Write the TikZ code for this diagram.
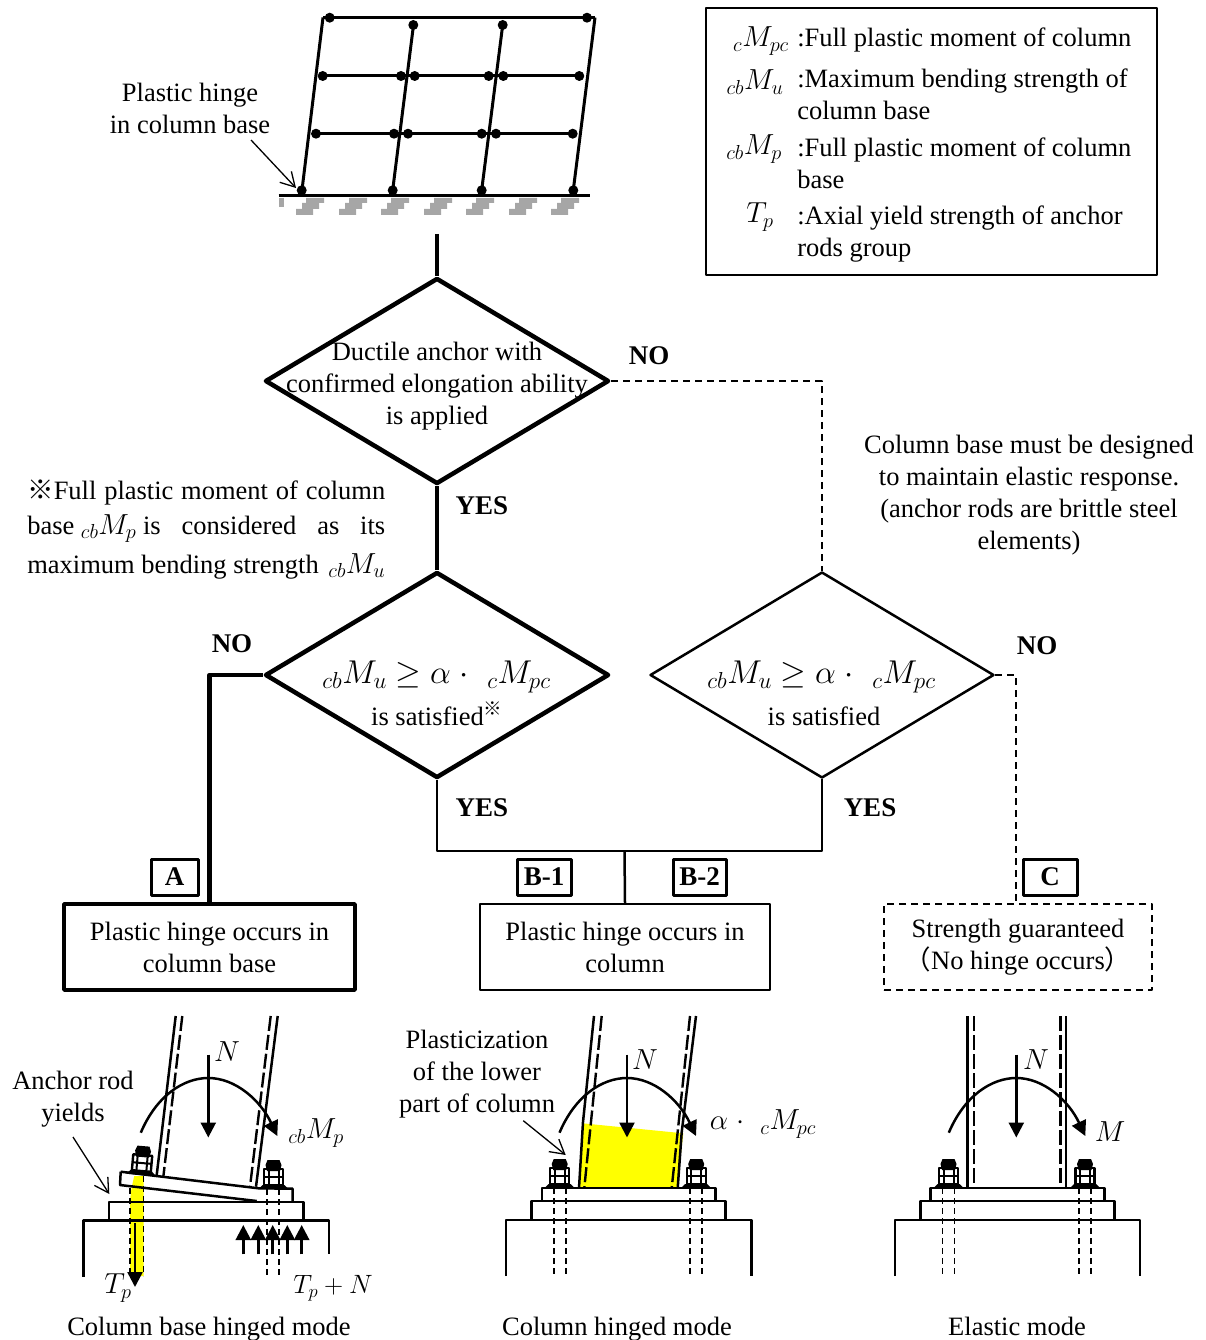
\documentclass[tikz,border=0pt]{standalone}
\usepackage{fix-cm}
\usepackage{fontspec}
\setmainfont{Liberation Serif}
\newfontfamily\cjkfont{Noto Sans CJK JP}
\usetikzlibrary{arrows.meta,shapes.geometric}
\definecolor{hingeyellow}{RGB}{255,255,0}
\newcommand{\preM}[2]{\ensuremath{{}_{#1}M_{#2}}}
\newcommand{\notesize}{\fontsize{29}{32}\selectfont}

\tikzset{
  txt/.style={inner sep=0pt, align=center, font=\fontsize{26.5}{32}\selectfont},
  mth/.style={inner sep=0pt, font=\fontsize{29}{34}\selectfont},
  mthbig/.style={inner sep=0pt, font=\fontsize{33}{38}\selectfont},
  yesno/.style={inner sep=0pt, font=\fontsize{27}{32}\selectfont\bfseries},
  decision/.style={diamond, draw, aspect=1, inner sep=0pt, minimum width=344pt, minimum height=206pt},
  resultbox/.style={draw, inner sep=0pt, align=center, minimum height=86pt, font=\fontsize{26.5}{32}\selectfont},
  tagbox/.style={draw, line width=3pt, inner sep=0pt, minimum height=36pt, font=\fontsize{27}{32}\selectfont\bfseries},
  dashline/.style={line width=2.5pt, dash pattern=on 7pt off 5pt},
  thickline/.style={line width=4.5pt},
  rodline/.style={line width=1.8pt, dash pattern=on 6pt off 4pt},
  wallline/.style={line width=2.4pt, dash pattern=on 15pt off 4pt},
  barb/.style={line width=1.3pt, -{Straight Barb[length=14pt,width=16pt]}},
  bigtip/.style={line width=2.5pt, -{Triangle[length=15pt,width=15pt]}},
  nutbolt/.pic={
    \fill (-6.5,-18) -- (-8,-24) -- (-6,-29) -- (6,-29) -- (8,-24) -- (6.5,-18) -- cycle;
    \draw[line width=2.4pt] (-9.5,-4) rectangle (9.5,-20);
    \draw[line width=2pt] (-5,-4) -- (-5,-20) (5,-4) -- (5,-20) (-9.5,-12) -- (9.5,-12);
    \fill (-15,0) -- (-11,-4) -- (11,-4) -- (15,0) -- cycle;
  },
  basefix/.pic={
    \draw (-86.8,0) rectangle (86.8,13);
    \draw (-97,13) rectangle (97,32);
    \draw (-122.7,88) -- (-122.7,32) -- (122.7,32) -- (122.7,88);
    \foreach \bx in {-69,67.5} {
      \draw[rodline] (\bx-6,0) -- (\bx-6,88);
      \draw[rodline] (\bx+6,0) -- (\bx+6,88);
      \path (\bx,0) pic {nutbolt};
    }
  },
  loadarc/.pic={
    \draw[bigtip] (-67.5,54.7) .. controls (-52,18) and (-25,0) .. (0,0) .. controls (27,0) and (52,22) .. (69,58);
    \draw[bigtip] (0,-23.5) -- (0,59.5);
  }
}

\begin{document}
\begin{tikzpicture}[x=1pt, y=-1pt, line width=2.5pt, line join=round]

  %% ==== frame ====
  \draw[line width=3pt] (323,17.5) -- (595,17.5);
  \draw[line width=3pt] (323,17.5) -- (302,190);
  \draw[line width=3pt] (413.5,25) -- (392.7,190);
  \draw[line width=3pt] (502.7,25) -- (481.7,190);
  \draw[line width=3pt] (595,17.5) -- (573.3,190);
  \draw[line width=3pt] (322.7,76) -- (579.3,76);
  \draw[line width=3pt] (316,133.7) -- (572.7,133.7);
  \foreach \hx/\hy in {329.7/17.7, 587/17.7, 413.3/25, 502.7/25,
      322.7/76, 401/76, 414.7/76, 488.7/76, 503.3/76, 579.3/76,
      316/133.7, 394/133.7, 408/133.7, 481.7/133.7, 496/133.7, 572.7/133.7,
      301.7/190.3, 392.7/190.3, 481.7/190.3, 573.3/190.3}
    \fill (\hx,\hy) circle (5);
  \fill[black!35] (278.7,198) rectangle (284,207);
  \foreach \gx in {296,339,381,424,466,509,551}
    \fill[black!35] (\gx,215) -- (\gx,209) -- (\gx+6,209) -- (\gx+6,203) -- (\gx+10,203) -- (\gx+10,198)
      -- (\gx+28,198) -- (\gx+28,203) -- (\gx+23,203) -- (\gx+23,209) -- (\gx+17,209) -- (\gx+17,215) -- cycle;
  \draw[line width=3pt] (278.7,195.7) -- (590,195.7);
  \node[txt] (lblHinge) at (190,108) {Plastic hinge\\in column base};
  \coordinate (hingeFrom) at (251,140);
  \coordinate (hingeTo) at (296,188);
  \draw[barb] (hingeFrom) -- (hingeTo);

  %% ==== legend ====
  \node[draw, line width=2pt, minimum width=451pt, minimum height=267pt, inner sep=0pt] (lgdBox) at (931.5,141.5) {};
  \node[mth] (lgdSymA) at (761,41) {\preM{c}{pc}};
  \node[mth] (lgdSymB) at (755,82) {\preM{cb}{u}};
  \node[mth] (lgdSymC) at (754,149) {\preM{cb}{p}};
  \node[mth] (lgdSymD) at (760,217) {\ensuremath{T_p}};
  \node[txt, anchor=west, align=left] (lgdTxtA) at (796,40) {:Full plastic moment of column};
  \node[txt, anchor=west, align=left] (lgdTxtB) at (796,94) {:Maximum bending strength of\\column base};
  \node[txt, anchor=west, align=left] (lgdTxtC) at (796,163) {:Full plastic moment of column\\base};
  \node[txt, anchor=west, align=left] (lgdTxtD) at (796,234) {:Axial yield strength of anchor\\rods group};

  %% ==== flow chart ====
  \node[decision, line width=4.5pt] (dDuctile) at (437,381) {};
  \node[decision, line width=4.5pt] (dStrength) at (437,675) {};
  \node[decision] (dElastic) at (822,675) {};
  \node[txt] (txtDuctile) at (437,386) {Ductile anchor with\\confirmed elongation ability\\is applied};
  \node[mthbig] (txtStrengthA) at (436.5,677) {\preM{cb}{u} $\geq\alpha\;\cdot\;\;$\preM{c}{pc}};
  \node[txt] (txtStrengthB) at (437,714) {is satisfied\textsuperscript{\cjkfont ※}};
  \node[mthbig] (txtElasticA) at (821.5,677) {\preM{cb}{u} $\geq\alpha\;\cdot\;\;$\preM{c}{pc}};
  \node[txt] (txtElasticB) at (824,716) {is satisfied};

  \node[resultbox, line width=3.5pt, minimum width=291pt] (bA) at (209.5,947) {Plastic hinge occurs in\\column base};
  \node[resultbox, minimum width=290pt] (bB) at (625,947) {Plastic hinge occurs in\\column};
  \node[resultbox, dashline, minimum width=268pt] (bC) at (1018,947) {Strength guaranteed\\{\cjkfont （}No hinge occurs{\cjkfont ）}};

  \node[tagbox, minimum width=47pt] (tagA) at (174.5,877) {A};
  \node[tagbox, minimum width=54pt] (tagBa) at (544,877) {B-1};
  \node[tagbox, minimum width=53pt] (tagBb) at (699.5,877) {B-2};
  \node[tagbox, minimum width=54pt] (tagC) at (1050,877) {C};

  \coordinate (stemTop) at (437,234);
  \coordinate (busL) at (437,851);
  \coordinate (busM) at (624.5,851);
  \coordinate (busR) at (822,851);
  \coordinate (cTurn) at (1016,675);
  \draw[thickline] (stemTop) -- (dDuctile.north);
  \draw[thickline] (dDuctile.south) -- (dStrength.north);
  \draw[dashline] (dDuctile.east) -| (dElastic.north);
  \draw[thickline] (dStrength.west) -| (bA.north);
  \draw (dStrength.south) -- (busL) -- (busR) -- (dElastic.south);
  \draw (busM) -- (bB.north);
  \draw[dashline] (dElastic.east) -- (cTurn) -- (cTurn |- bC.north);

  \node[yesno] (noDuctile) at (649,356) {NO};
  \node[yesno] (yesDuctile) at (482,506) {YES};
  \node[yesno] (noStrength) at (232,644) {NO};
  \node[yesno] (yesStrength) at (482,808) {YES};
  \node[yesno] (yesElastic) at (870,808) {YES};
  \node[yesno] (noElastic) at (1037,646) {NO};

  \node[txt, anchor=base west] (txtNoteA) at (26,499) {\hbox to 358pt{{\cjkfont ※}Full plastic moment of column}};
  \node[txt, anchor=base west] (txtNoteB) at (26,534) {\hbox to 358pt{base {\notesize\preM{cb}{p}} is\hfil considered\hfil as\hfil its}};
  \node[txt, anchor=base west] (txtNoteC) at (26,573) {\hbox to 358pt{maximum bending strength\hfil\ {\notesize\preM{cb}{u}}}};
  \node[txt] (txtBrittle) at (1029,495) {Column base must be designed\\to maintain elastic response.\\(anchor rods are brittle steel\\elements)};

  %% ==== A: column base hinged ====
  \fill[hingeyellow] (134.3,1176) -- (143.5,1176) -- (143.5,1276) -- (130,1276) -- (130,1205) .. controls (130,1195) and (132,1185) .. cycle;
  \draw (175.7,1016) -- (156.7,1175);
  \draw[wallline] (182.3,1016) -- (163.3,1177);
  \draw (277.7,1016) -- (256,1186.7);
  \draw[wallline] (270.7,1016) -- (250,1186.7);
  \draw (120.7,1171.7) -- (258.5,1188.3) -- (292.7,1188.7) -- (292.7,1202);
  \draw (120.7,1171.7) -- (120,1185) -- (256.7,1201);
  \draw (109,1202) rectangle (303.3,1220.5);
  \draw (83.3,1276.7) -- (83.3,1220.5) -- (329,1220.5) -- (329,1254);
  \draw[rodline] (130,1188) -- (130,1276);
  \draw[rodline] (143.5,1176) -- (143.5,1276);
  \draw[rodline] (266.7,1189) -- (266.7,1276);
  \draw[rodline] (279.3,1189) -- (279.3,1276);
  \path (141,1175) pic[rotate=-5] {nutbolt};
  \path (273.5,1189) pic {nutbolt};
  \draw[bigtip] (135,1223) -- (135,1287);
  \foreach \ax in {243.3,258.3,272.7,287.3,301.7}
    \draw[bigtip] (\ax,1254.3) -- (\ax,1225);
  \path (208.3,1078) pic {loadarc};
  \node[mth] (lblNa) at (227,1052) {\ensuremath{N}};
  \node[mth] (lblMa) at (316,1133) {\preM{cb}{p}};
  \node[mth] (lblTa) at (118,1288) {\ensuremath{T_p}};
  \node[mth, font=\fontsize{26.5}{32}\selectfont] (lblTb) at (333,1288) {\ensuremath{T_p+N}};
  \node[txt] (lblRod) at (73,1099) {Anchor rod\\yields};
  \coordinate (rodFrom) at (73,1137);
  \coordinate (rodTo) at (109.3,1194);
  \draw[barb] (rodFrom) -- (rodTo);
  \node[txt, anchor=base] (capA) at (209,1335) {Column base hinged mode};

  %% ==== B: column hinged ====
  \fill[hingeyellow] (582.7,1123.3) -- (683.3,1133.3) -- (677,1188) -- (579,1188) -- cycle;
  \draw (594,1016) -- (583,1122) -- (579,1188);
  \draw[wallline] (601.7,1016) -- (584.3,1188);
  \draw (696,1016) -- (681.7,1132) -- (677.7,1188);
  \draw[wallline] (690,1016) -- (671.7,1188);
  \path (628.7,1188) pic {basefix};
  \path (627,1078) pic {loadarc};
  \node[mth] (lblNb) at (645,1060) {\ensuremath{N}};
  \node[mth] (lblMb) at (763,1124) {$\alpha\;\cdot\;\;$\preM{c}{pc}};
  \node[txt] (lblPlastic) at (477,1074) {Plasticization\\of the lower\\part of column};
  \coordinate (plasticFrom) at (523.3,1120.7);
  \coordinate (plasticTo) at (565.7,1155);
  \draw[barb] (plasticFrom) -- (plasticTo);
  \node[txt, anchor=base] (capB) at (617,1335) {Column hinged mode};

  %% ==== C: elastic ====
  \draw (967.3,1016) -- (967.3,1188);
  \draw[wallline] (974,1016) -- (974,1188);
  \draw (1066,1016) -- (1066,1188);
  \draw[wallline] (1060.5,1016) -- (1060.5,1188);
  \path (1017.5,1188) pic {basefix};
  \path (1016.3,1078) pic {loadarc};
  \node[mth] (lblNc) at (1036,1060) {\ensuremath{N}};
  \node[mth] (lblMc) at (1110,1132) {\ensuremath{M}};
  \node[txt, anchor=base] (capC) at (1017,1335) {Elastic mode};

  \pgfresetboundingbox
  \path[use as bounding box] (0,0) rectangle (1205,1340);
\end{tikzpicture}
\end{document}
